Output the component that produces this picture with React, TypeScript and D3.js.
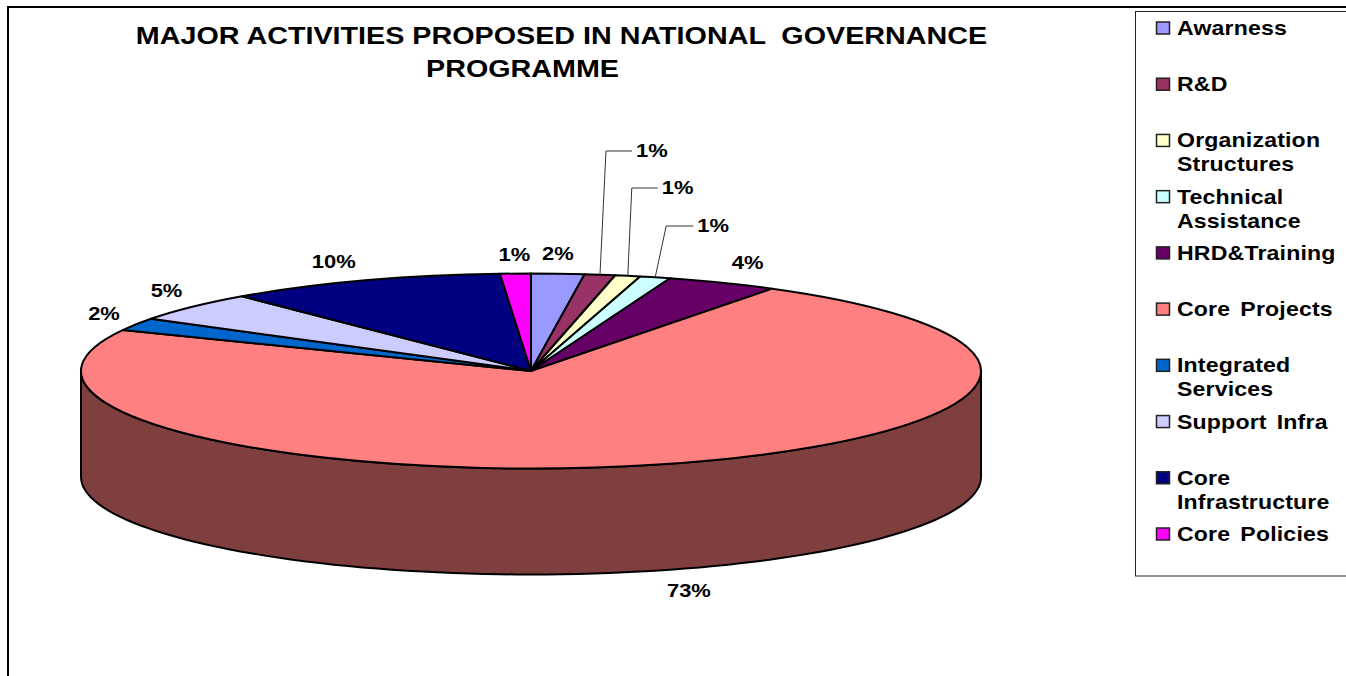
import React from "react";
import * as d3 from "d3";

// Share of each proposed activity, in percent, clockwise from twelve o'clock.
const activities = ["Awarness", "R&D", "Organization Structures", "Technical Assistance", "HRD&Training", "Core Projects", "Integrated Services", "Support Infra", "Core Infrastructure", "Core Policies"];
const shares = [1.9, 1.1, 0.9, 1.1, 4.0, 72.9, 2.1, 4.9, 10.0, 1.1];
const colors = ["#9999ff", "#993366", "#ffffcc", "#ccffff", "#660066", "#ff8080", "#0066cc", "#ccccff", "#000080", "#ff00ff"];
const legendLines = [["Awarness"], ["R&D"], ["Organization", "Structures"], ["Technical", "Assistance"], ["HRD&Training"], ["Core Projects"], ["Integrated", "Services"], ["Support Infra"], ["Core", "Infrastructure"], ["Core Policies"]];
const titleLines = ["MAJOR ACTIVITIES PROPOSED IN NATIONAL  GOVERNANCE", "PROGRAMME"];

const W = 1346, H = 676;
const cx = 531, cy = 371, rx = 450, ry = 97.5, depth = 106;
const squash = ry / rx;
const FONT = "'Liberation Sans', Arial, sans-serif";
const STRETCH = 1.155; // the chart's bold type is set slightly wide
const TITLE_STRETCH = 1.197;
const titleCentres = [561.5, 522.5];

// Offset of each percentage label from the rim point at its slice's middle angle.
const labelOffsets: [number, number][] = [[0, -20], [0, 0], [0, 0], [0, 0], [25, -20], [31, 20], [-32, -10], [-26, -16], [-29, -19], [-1, -19]];
// Small slices carry a leader line: [rim-to-elbow dx, elbow y, horizontal run].
const leaders: Record<number, [number, number, number]> = { 1: [6, 151, 26], 2: [4, 188, 26], 3: [11, 226, 27] };

const rimPoint = (a: number) => [cx + rx * Math.sin(a), cy - ry * Math.cos(a)];

function WideText({ x, y, size, anchor, stretch = STRETCH, wordSpacing, letterSpacing, children }: { x: number; y: number; size: number; anchor?: string; stretch?: number; wordSpacing?: number; letterSpacing?: number; children: string }) {
  return (
    <text transform={`translate(${x},${y}) scale(${stretch},1)`} fontSize={size} textAnchor={anchor} xmlSpace="preserve" wordSpacing={wordSpacing} letterSpacing={letterSpacing}>
      {children}
    </text>
  );
}

export default function App() {
  const pie = d3.pie<number>().sort(null).value((d) => d);
  const slices = pie(shares);
  const arc = d3.arc<d3.PieArcDatum<number>>().innerRadius(0).outerRadius(rx);
  const legendY = d3.scaleLinear().domain([0, 9]).range([28, 534]);

  const rim = d3.range(0, 181, 2).map((deg) => {
    const a = (deg * Math.PI) / 180;
    return [cx - rx * Math.cos(a), cy + ry * Math.sin(a)] as [number, number];
  });
  const wallD =
    d3.line()([...rim, ...rim.slice().reverse().map(([x, y]) => [x, y + depth] as [number, number])]) + "Z";

  return (
    <svg width={W} height={H} viewBox={`0 0 ${W} ${H}`} style={{ position: "fixed", left: 0, top: 0, background: "#fff", display: "block" }} fontFamily={FONT} fontWeight="bold" fill="#000">
      <path d={`M8,${H}V7H${W}`} fill="none" stroke="#000" strokeWidth={2} />

      {titleLines.map((t, i) => (
        <WideText key={i} x={titleCentres[i]} y={44 + i * 33} size={24} anchor="middle" stretch={TITLE_STRETCH}>{t}</WideText>
      ))}

      <path d={wallD} fill="#7f3f3f" stroke="#000" strokeWidth={2} />
      <g transform={`translate(${cx},${cy}) scale(1,${squash})`}>
        {slices.map((s, i) => (
          <path key={i} d={arc(s) as string} fill={colors[i]} stroke="#000" strokeWidth={2} strokeLinejoin="round" vectorEffect="non-scaling-stroke" />
        ))}
      </g>

      {slices.map((s, i) => {
        const mid = (s.startAngle + s.endAngle) / 2;
        const [px, py] = rimPoint(mid);
        const text = `${Math.round(s.value)}%`;
        const lead = leaders[i];
        if (lead) {
          const [dx, ey, run] = lead;
          return (
            <g key={i}>
              <polyline points={`${px},${py} ${px + dx},${ey} ${px + dx + run},${ey}`} fill="none" stroke="#333" strokeWidth={1} />
              <WideText x={px + dx + run + 4} y={ey + 6} size={19}>{text}</WideText>
            </g>
          );
        }
        const [ox, oy] = labelOffsets[i];
        const depthShift = Math.cos(mid) < 0 ? depth : 0;
        return (
          <WideText key={i} x={px + ox} y={py + oy + depthShift + 6} size={19} anchor="middle">{text}</WideText>
        );
      })}

      <rect x={1135.5} y={11.5} width={W} height={564.5} fill="#fff" stroke="#222" strokeWidth={1} />
      {activities.map((name, i) => (
        <g key={name}>
          <rect x={1156.5} y={legendY(i) - 6} width={13} height={12} fill={colors[i]} stroke="#222" strokeWidth={1.5} />
          {legendLines[i].map((line, j) => (
            <WideText key={j} x={1177} y={legendY(i) + 7 + j * 24} size={20} wordSpacing={3} letterSpacing={0.15}>{line}</WideText>
          ))}
        </g>
      ))}
    </svg>
  );
}
